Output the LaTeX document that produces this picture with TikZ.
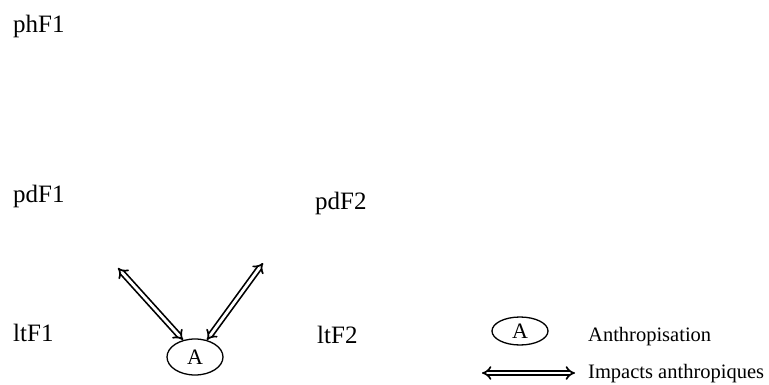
\documentclass[tikz,border=0pt]{standalone}
\usepackage{fontspec}
\setmainfont{Liberation Serif}
\usetikzlibrary{arrows.meta,shapes.geometric}
\begin{document}
\begin{tikzpicture}[x=1pt,y=-1pt,
  lbl/.style={anchor=base west,inner sep=0pt,font=\fontsize{25}{28}\selectfont},
  leg/.style={anchor=base west,inner sep=0pt,font=\fontsize{20.5}{24}\selectfont},
  anth/.style={ellipse,draw,line width=1.3pt,inner sep=0pt,font=\fontsize{22}{26}\selectfont},
  impact/.style={double,double distance=2.8pt,line width=1.7pt,arrows={Implies[scale=1.4]-Implies[scale=1.4]}}]
\useasboundingbox (0,0) rectangle (769,385);
\node[lbl] (phF1) at (13,33) {phF1};
\node[lbl] (pdF1) at (13,203) {pdF1};
\node[lbl] (pdF2) at (315,210) {pdF2};
\node[lbl] (ltF1) at (13,341) {ltF1};
\node[lbl] (ltF2) at (317,343) {ltF2};
\node[anth,minimum width=56pt,minimum height=36pt] (A) at (195,357) {A};
\coordinate (c1) at (118,268);
\coordinate (c2) at (263,263);
\draw[impact] (c1) -- (A.125);
\draw[impact] (c2) -- (A.55);
\node[anth,minimum width=56pt,minimum height=28pt] (LA) at (520,331) {A};
\node[leg] (t1) at (588,341) {Anthropisation};
\coordinate (l1) at (482,373);
\coordinate (l2) at (575,373);
\draw[impact] (l1) -- (l2);
\node[leg] (t2) at (588,378) {Impacts anthropiques};
\end{tikzpicture}
\end{document}
